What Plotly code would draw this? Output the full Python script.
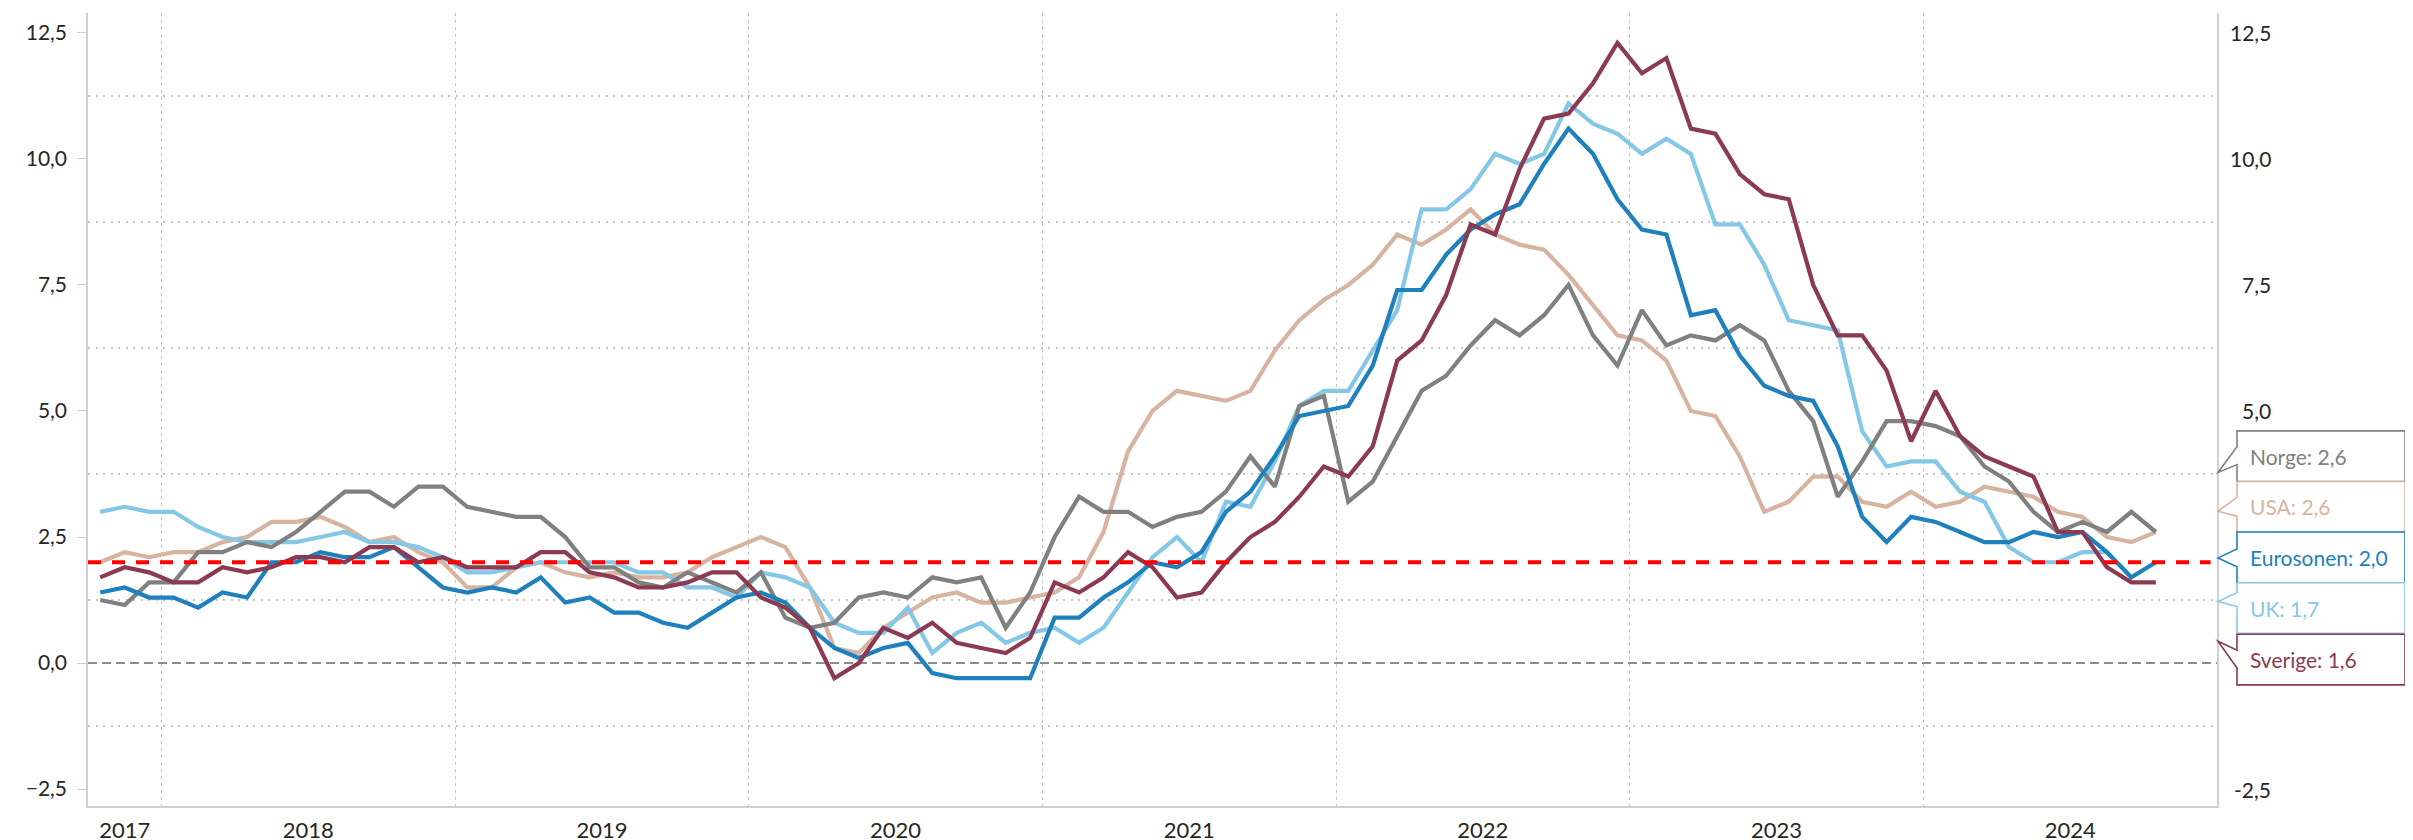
import numpy as np
import pandas as pd
import plotly.graph_objects as go

# ---------------- data ----------------
months = pd.date_range("2017-10-01", "2024-10-01", freq="MS")

norge = [1.25, 1.15, 1.6, 1.6, 2.2, 2.2, 2.4, 2.3, 2.6, 3.0, 3.4, 3.4, 3.1, 3.5, 3.5,
         3.1, 3.0, 2.9, 2.9, 2.5, 1.9, 1.9, 1.6,
         1.5, 1.8, 1.6, 1.4, 1.8, 0.9, 0.7, 0.8, 1.3, 1.4, 1.3, 1.7, 1.6, 1.7, 0.7, 1.4,
         2.5, 3.3, 3.0, 3.0, 2.7,
         2.9, 3.0, 3.4, 4.1, 3.5, 5.1, 5.3, 3.2, 3.6, 4.5, 5.4, 5.7, 6.3, 6.8, 6.5, 6.9,
         7.5, 6.5, 5.9, 7.0,
         6.3, 6.5, 6.4, 6.7, 6.4, 5.4, 4.8, 3.3, 4.0, 4.8, 4.8, 4.7, 4.5, 3.9, 3.6, 3.0,
         2.6, 2.8, 2.6, 3.0, 2.6]

usa = [2.0, 2.2, 2.1, 2.2, 2.2, 2.4, 2.5, 2.8, 2.8, 2.9, 2.7, 2.4, 2.5, 2.2, 2.0,
       1.5, 1.5, 1.9, 2.0, 1.8, 1.7, 1.8, 1.7,
       1.7, 1.8, 2.1, 2.3, 2.5, 2.3, 1.5, 0.3, 0.2, 0.7, 1.0, 1.3, 1.4, 1.2, 1.2, 1.3,
       1.4, 1.7, 2.6, 4.2, 5.0,
       5.4, 5.3, 5.2, 5.4, 6.2, 6.8, 7.2, 7.5, 7.9, 8.5, 8.3, 8.6, 9.0, 8.5, 8.3, 8.2,
       7.7, 7.1, 6.5, 6.4,
       6.0, 5.0, 4.9, 4.1, 3.0, 3.2, 3.7, 3.7, 3.2, 3.1, 3.4, 3.1, 3.2, 3.5, 3.4, 3.3,
       3.0, 2.9, 2.5, 2.4, 2.6]

eurosonen = [1.4, 1.5, 1.3, 1.3, 1.1, 1.4, 1.3, 2.0, 2.0, 2.2, 2.1, 2.1, 2.3, 1.9, 1.5,
             1.4, 1.5, 1.4, 1.7, 1.2, 1.3, 1.0, 1.0,
             0.8, 0.7, 1.0, 1.3, 1.4, 1.2, 0.7, 0.3, 0.1, 0.3, 0.4, -0.2, -0.3, -0.3, -0.3, -0.3,
             0.9, 0.9, 1.3, 1.6, 2.0,
             1.9, 2.2, 3.0, 3.4, 4.1, 4.9, 5.0, 5.1, 5.9, 7.4, 7.4, 8.1, 8.6, 8.9, 9.1, 9.9,
             10.6, 10.1, 9.2, 8.6,
             8.5, 6.9, 7.0, 6.1, 5.5, 5.3, 5.2, 4.3, 2.9, 2.4, 2.9, 2.8, 2.6, 2.4, 2.4, 2.6,
             2.5, 2.6, 2.2, 1.7, 2.0]

uk = [3.0, 3.1, 3.0, 3.0, 2.7, 2.5, 2.4, 2.4, 2.4, 2.5, 2.6, 2.4, 2.4, 2.3, 2.1,
      1.8, 1.8, 1.9, 2.0, 2.0, 2.0, 2.0, 1.8,
      1.8, 1.5, 1.5, 1.3, 1.8, 1.7, 1.5, 0.8, 0.6, 0.6, 1.1, 0.2, 0.6, 0.8, 0.4, 0.6,
      0.7, 0.4, 0.7, 1.4, 2.1,
      2.5, 2.0, 3.2, 3.1, 4.0, 5.1, 5.4, 5.4, 6.2, 7.0, 9.0, 9.0, 9.4, 10.1, 9.9, 10.1,
      11.1, 10.7, 10.5, 10.1,
      10.4, 10.1, 8.7, 8.7, 7.9, 6.8, 6.7, 6.6, 4.6, 3.9, 4.0, 4.0, 3.4, 3.2, 2.3, 2.0,
      2.0, 2.2, 2.2, 1.7]

sverige = [1.7, 1.9, 1.8, 1.6, 1.6, 1.9, 1.8, 1.9, 2.1, 2.1, 2.0, 2.3, 2.3, 2.0, 2.1,
           1.9, 1.9, 1.9, 2.2, 2.2, 1.8, 1.7, 1.5,
           1.5, 1.6, 1.8, 1.8, 1.3, 1.1, 0.7, -0.3, 0.0, 0.7, 0.5, 0.8, 0.4, 0.3, 0.2, 0.5,
           1.6, 1.4, 1.7, 2.2, 1.9,
           1.3, 1.4, 2.0, 2.5, 2.8, 3.3, 3.9, 3.7, 4.3, 6.0, 6.4, 7.3, 8.7, 8.5, 9.8, 10.8,
           10.9, 11.5, 12.3, 11.7,
           12.0, 10.6, 10.5, 9.7, 9.3, 9.2, 7.5, 6.5, 6.5, 5.8, 4.4, 5.4, 4.5, 4.1, 3.9, 3.7,
           2.6, 2.6, 1.9, 1.6, 1.6]

target = 2.0

y_ticks = [-2.5, 0.0, 2.5, 5.0, 7.5, 10.0, 12.5]
y_minor = [-1.25, 1.25, 3.75, 6.25, 8.75, 11.25]
right_labels = [12.5, 10.0, 7.5, 5.0, -2.5]

series = [
    ("USA", usa, "#D8B4A0"),
    ("UK", uk, "#85C7E6"),
    ("Norge", norge, "#808080"),
    ("Eurosonen", eurosonen, "#1F80BE"),
    ("Sverige", sverige, "#8B3A52"),
]
callout_order = ["Norge", "USA", "Eurosonen", "UK", "Sverige"]

# ---------------- geometry helpers ----------------
W, H = 2413, 840
ML, MR, MT, MB = 80, 204, 5, 36
PW = W - ML - MR
x_range = [-0.5, 86.5]
y_range = [-2.835, 12.894]
FONT = "Lato, 'Open Sans', sans-serif"
TXT = "#262626"


def px_to_paper_x(px):
    return (px - ML) / PW


def px_to_y(py):
    ph = H - MT - MB
    return y_range[1] - (py - MT) / ph * (y_range[1] - y_range[0])


# year tick positions (centre of visible part of each year)
idx = np.arange(len(months))
years = sorted(set(months.year))
year_vals, year_text, year_bounds = [], [], []
for yr in years:
    jan = (yr - months[0].year) * 12 - (months[0].month - 1)
    lo, hi = jan - 0.5, jan + 11.5
    if lo > x_range[0]:
        year_bounds.append(lo)
    lo, hi = max(lo, x_range[0]), min(hi, x_range[1])
    year_vals.append((lo + hi) / 2)
    year_text.append(str(yr))

fig = go.Figure()

for name, vals, col in series:
    fig.add_trace(go.Scatter(
        x=idx[:len(vals)], y=vals, mode="lines", name=name,
        line=dict(color=col, width=4.2), showlegend=False,
    ))

# invisible trace to activate right axis
fig.add_trace(go.Scatter(x=[x_range[0]], y=[0], yaxis="y2", mode="markers",
                         marker=dict(opacity=0), showlegend=False, hoverinfo="skip"))

shapes = []
# zero line
shapes.append(dict(type="line", xref="paper", x0=0, x1=1, yref="y", y0=0, y1=0,
                   line=dict(color="#8C8C8C", width=2, dash="9px,5px"), layer="below"))
# target line
shapes.append(dict(type="line", xref="paper", x0=0, x1=0.997, yref="y", y0=target, y1=target,
                   line=dict(color="#FF0000", width=4, dash="13px,11px"), layer="above"))

# callouts: (box top px, notch top px, tip px, notch bottom px)
callout_geom = {
    "Norge": (426, 442, 468, 460),
    "USA": (477, 493, 507, 512),
    "Eurosonen": (528, 545, 554, 563),
    "UK": (579, 589, 598, 603),
    "Sverige": (631, 647, 638, 665),
}
box_h = 51
bx0, bx1, tipx = px_to_paper_x(2229), px_to_paper_x(2397), px_to_paper_x(2210)
colors = {n: c for n, _, c in series}
values = {n: v for n, v, _ in series}
annotations = []
for name in callout_order:
    top, ntop, tip, nbot = callout_geom[name]
    bot = top + box_h
    yt, yb = px_to_y(top), px_to_y(bot)
    path = (f"M {bx0},{yt} L {bx1},{yt} L {bx1},{yb} L {bx0},{yb} "
            f"L {bx0},{px_to_y(nbot)} L {tipx},{px_to_y(tip)} L {bx0},{px_to_y(ntop)} Z")
    shapes.append(dict(type="path", xref="paper", yref="y", path=path,
                       fillcolor="white", line=dict(color=colors[name], width=1.6),
                       layer="above"))
    last = [v for v in values[name] if v is not None][-1]
    label = f"{name}: {last:.1f}".replace(".", ",")
    annotations.append(dict(xref="paper", yref="y", x=px_to_paper_x(2240),
                            y=px_to_y(top + box_h / 2), text=label, showarrow=False,
                            xanchor="left", yanchor="middle",
                            font=dict(family=FONT, size=21, color=colors[name])))

for v in right_labels:
    annotations.append(dict(xref="paper", yref="y", x=px_to_paper_x(2265), y=v,
                            text=f"{v:.1f}".replace(".", ","), showarrow=False,
                            xanchor="right", yanchor="middle",
                            font=dict(family=FONT, size=21, color=TXT)))

fig.update_layout(
    width=W, height=H,
    margin=dict(l=ML, r=MR, t=MT, b=MB, pad=0),
    plot_bgcolor="white", paper_bgcolor="white",
    separators=",.",
    font=dict(family=FONT, size=21, color=TXT),
    shapes=shapes, annotations=annotations,
    xaxis=dict(
        range=x_range, tickmode="array", tickvals=year_vals, ticktext=year_text,
        showgrid=False, zeroline=False, ticks="", showline=True,
        linecolor="#D0D0D0", linewidth=1.5,
        tickfont=dict(family=FONT, size=22, color=TXT),
        ticklabelstandoff=4,
        minor=dict(tickmode="array", tickvals=year_bounds, showgrid=True,
                   gridcolor="#C4C4C4", gridwidth=1.3, griddash="3px,4px", ticks=""),
    ),
    yaxis=dict(
        range=y_range, tickmode="array", tickvals=y_ticks, tickformat=".1f",
        showgrid=False, zeroline=False, showline=True, linecolor="#D0D0D0", linewidth=1.5,
        ticks="outside", ticklen=9, tickcolor="#D0D0D0", tickwidth=1.3,
        ticklabelstandoff=6,
        tickfont=dict(family=FONT, size=21, color=TXT),
        minor=dict(tickmode="array", tickvals=y_minor, showgrid=True,
                   gridcolor="#C4C4C4", gridwidth=1.5, griddash="2px,5.5px", ticks=""),
    ),
    yaxis2=dict(
        range=y_range, overlaying="y", side="right", showgrid=False, zeroline=False,
        showline=True, linecolor="#D0D0D0", linewidth=1.5, showticklabels=False, ticks="",
    ),
)

fig.write_html("out.html")
